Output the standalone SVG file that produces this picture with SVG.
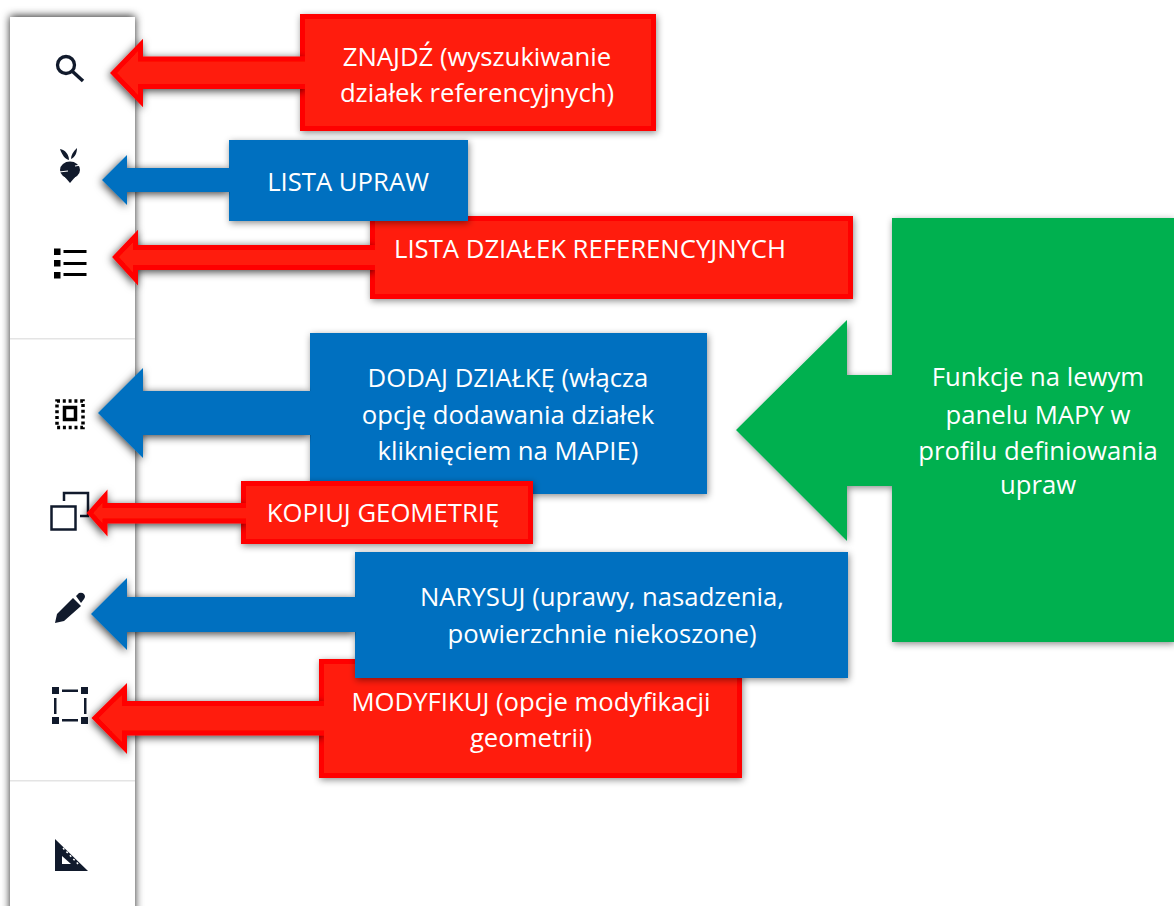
<svg xmlns="http://www.w3.org/2000/svg" width="1174" height="906" viewBox="0 0 1174 906">
<style>
text{font-family:"Open Sans","Noto Sans","Liberation Sans",sans-serif;font-size:25.7px;fill:#fff;text-anchor:middle}
.red{fill:#ff1d0a;stroke:#ff0000;stroke-width:5}
.blue{fill:#0070c0}
.green{fill:#00b050}
.ic{fill:#111a2c}
.ico{fill:none;stroke:#111a2c}
.sh{filter:url(#ds)}
.ar{filter:url(#as)}
</style>
<defs>
<filter id="ds" x="-10%" y="-20%" width="125%" height="145%"><feDropShadow dx="1" dy="2" stdDeviation="3.500" flood-color="#000" flood-opacity=".45"/></filter>
<filter id="as" x="-14%" y="-50%" width="114%" height="210%"><feDropShadow dx="-1" dy="2" stdDeviation="4" flood-color="#000" flood-opacity=".75"/></filter>
<filter id="ps" x="-20%" y="-5%" width="140%" height="110%"><feDropShadow dx="0" dy="-1" stdDeviation="4.500" flood-color="#000" flood-opacity=".85"/></filter>
</defs>
<rect width="1174" height="906" fill="#fff"/>
<g id="panel">
<rect x="10" y="17" width="125" height="900" fill="#fff" filter="url(#ps)"/>
<rect x="10" y="338" width="125" height="1.500" fill="#e4e4e4"/>
<rect x="10" y="780" width="125" height="1.500" fill="#e4e4e4"/>
</g>
<g id="icons">
<g id="icon-search"><circle cx="66" cy="65" r="8.500" class="ico" stroke-width="3.300"/><path d="M72 71L83 81" class="ico" stroke-width="3.500"/></g>
<g id="icon-crop"><ellipse cx="70" cy="170" rx="10" ry="8.500" class="ic"/><path class="ic" d="M64 176H76L70 183Z"/><path class="ic" d="M69 160C65 159 62 155 60 149C65 150 69 154 69 160ZM71 159C71 155 73 152 77 148C77 153 75 157 71 159Z"/><path d="M59 172L68 171M75 166L81 165" stroke="#fff" stroke-width="1.200" fill="none"/></g>
<g id="icon-list"><rect x="54" y="248.500" width="6.500" height="6.500"/><rect x="54" y="260" width="6.500" height="6.500"/><rect x="54" y="272" width="6.500" height="6.500"/><rect x="63.500" y="250" width="23" height="3"/><rect x="63.500" y="262" width="23" height="3"/><rect x="63.500" y="273" width="23" height="3"/></g>
<g id="icon-add"><rect x="64.500" y="407.500" width="11" height="12" fill="none" stroke="#000" stroke-width="3.500"/><rect x="57" y="401" width="26" height="26.500" fill="none" stroke="#000" stroke-width="3.500" stroke-dasharray="3 2.800"/></g>
<g id="icon-copy"><rect x="51.500" y="506.500" width="24" height="23" class="ico" stroke-width="2.500"/><path d="M64 501V493H88V516H80" class="ico" stroke-width="2.500"/></g>
<g id="icon-pencil"><path class="ic" d="M55 623L57 614L73 598L81 606L64 621ZM76 596L79 593Q82 592 84 594L85 596Q85 598 84 599L81 603Z"/></g>
<g id="icon-modify"><g class="ic"><rect x="52" y="687" width="7" height="7"/><rect x="81" y="687" width="7" height="7"/><rect x="52" y="717" width="7" height="7"/><rect x="81" y="717" width="7" height="7"/><rect x="62" y="689.500" width="16" height="2.500"/><rect x="62" y="719" width="16" height="2.500"/><rect x="54" y="698" width="2.500" height="16"/><rect x="84" y="698" width="2.500" height="16"/></g></g>
<g id="icon-measure"><path class="ic" fill-rule="evenodd" d="M55 839L88 871H55ZM62 856V864H71Z"/><path d="M63 848L80 866" stroke="#fff" stroke-width="1.500" stroke-dasharray="2 3" fill="none"/></g>
</g>
<g id="node-green"><path class="green sh" d="M892 218H1174V642H892V486H847V541L736 430L847 320V375H892Z"/><text x="1038" y="386">Funkcje na lewym</text><text x="1038" y="424">panelu MAPY w</text><text x="1038" y="460">profilu definiowania</text><text x="1038" y="494">upraw</text></g>
<g id="node-znajdz"><rect class="red sh" x="302.500" y="16.500" width="351" height="112"/><text x="477" y="66">ZNAJDŹ (wyszukiwanie</text><text x="477" y="102">działek referencyjnych)</text></g>
<g id="node-dzialki"><rect class="red sh" x="372.500" y="218.500" width="478" height="78"/><text x="590" y="258">LISTA DZIAŁEK REFERENCYJNYCH</text></g>
<g id="node-lista"><rect class="blue sh" x="229" y="140" width="239" height="81"/><text x="348" y="191">LISTA UPRAW</text></g>
<g id="node-dodaj"><rect class="blue sh" x="310" y="333" width="397" height="161"/><text x="508" y="387">DODAJ DZIAŁKĘ (włącza</text><text x="508" y="424">opcję dodawania działek</text><text x="508" y="460">kliknięciem na MAPIE)</text></g>
<g id="node-kopiuj"><rect class="red sh" x="243.500" y="483.500" width="287" height="58"/><text x="383" y="522">KOPIUJ GEOMETRIĘ</text></g>
<g id="node-modyfikuj"><rect class="red sh" x="321.500" y="661.500" width="418" height="114"/><text x="531" y="711">MODYFIKUJ (opcje modyfikacji</text><text x="531" y="747">geometrii)</text></g>
<g id="node-narysuj"><rect class="blue sh" x="355" y="552" width="493" height="126"/><text x="602" y="606">NARYSUJ (uprawy, nasadzenia,</text><text x="602" y="643">powierzchnie niekoszone)</text></g>
<g id="connectors">
<path class="red ar" d="M305 59H140.500V45L113.500 73L140.500 101V86.500H305"/>
<path class="blue ar" d="M230 168H127V155L102 180L127 205V192H230Z"/>
<path class="red ar" d="M375 247.500H135.500V236L115.500 257L135.500 279V267.500H375"/>
<path class="blue ar" d="M311 391H143V368L98 413L143 458V435H311Z"/>
<path class="red ar" d="M246 505.500H105V496L90 513L105 530V521H246"/>
<path class="blue ar" d="M356 597H127V578L91 614L127 650V632H356Z"/>
<path class="red ar" d="M324 703.500H124.500V689L95 718L124.500 748V733H324"/>
</g>
</svg>
